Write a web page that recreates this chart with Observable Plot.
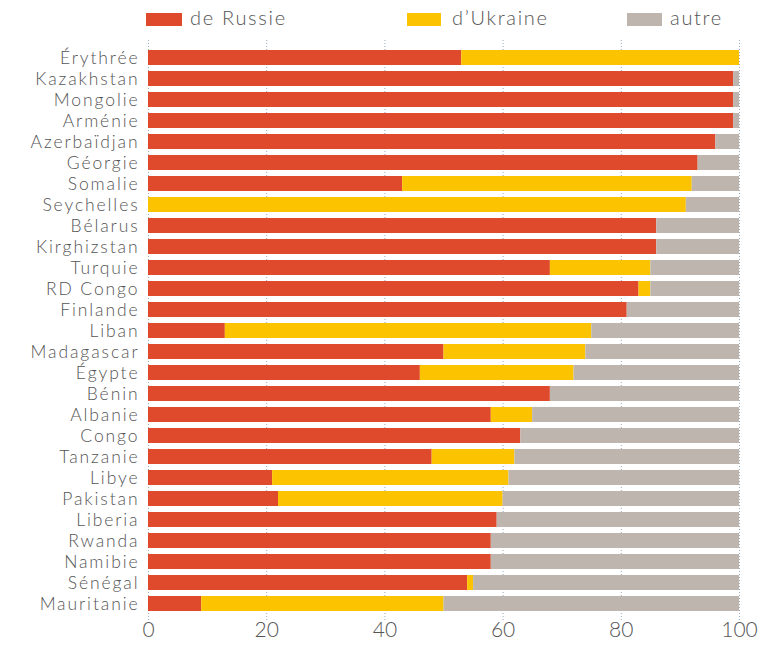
<!DOCTYPE html>
<html>
<head>
<meta charset="utf-8">
<script src="https://cdn.jsdelivr.net/npm/d3@7"></script>
<script src="https://cdn.jsdelivr.net/npm/@observablehq/plot@0.6"></script>
<style>
  html, body { margin: 0; padding: 0; background: #fff; }
  body { width: 771px; height: 645px; overflow: hidden; font-family: Lato, "Open Sans", sans-serif; font-weight: 300; color: #555; }
  #legend { position: relative; height: 34px; width: 771px; }
  .sw { position: absolute; top: 13px; height: 13px; }
  .lt { position: absolute; top: 5px; font-size: 20px; line-height: 24px; letter-spacing: 1.7px; }
  #chart svg text { font-family: Lato, "Open Sans", sans-serif; font-weight: 300; }
  #chart svg g[aria-label="y-axis tick label"] text { letter-spacing: 1.9px; }
</style>
</head>
<body>
<div id="legend"></div>
<div id="chart"></div>
<script>
const countries = ["Érythrée","Kazakhstan","Mongolie","Arménie","Azerbaïdjan","Géorgie","Somalie","Seychelles","Bélarus","Kirghizstan","Turquie","RD Congo","Finlande","Liban","Madagascar","Égypte","Bénin","Albanie","Congo","Tanzanie","Libye","Pakistan","Liberia","Rwanda","Namibie","Sénégal","Mauritanie"];
const russia  = [53,99,99,99,96,93,43,0,86,86,68,83,81,13,50,46,68,58,63,48,21,22,59,58,58,54,9];
const ukraine = [47,0,0,0,0,0,49,91,0,0,17,2,0,62,24,26,0,7,0,14,40,38,0,0,0,1,41];
const other   = [0,1,1,1,4,7,8,9,14,14,15,15,19,25,26,28,32,35,37,38,39,40,41,42,42,45,50];
const sources = ["de Russie","d’Ukraine","autre"];
const colors  = ["#e04a2c","#fcc400","#beb6ae"];
const xTicks  = [0,20,40,60,80,100];

const rows = [];
countries.forEach((c, i) => {
  rows.push({country: c, source: sources[0], value: russia[i]});
  rows.push({country: c, source: sources[1], value: ukraine[i]});
  rows.push({country: c, source: sources[2], value: other[i]});
});

// legend
const legend = document.getElementById("legend");
const legendPos = [[146, 36, 190], [407, 34, 452], [627, 35, 670]];
sources.forEach((s, i) => {
  const sw = document.createElement("div");
  sw.className = "sw";
  sw.style.left = legendPos[i][0] + "px";
  sw.style.width = legendPos[i][1] + "px";
  sw.style.background = colors[i];
  legend.appendChild(sw);
  const t = document.createElement("div");
  t.className = "lt";
  t.style.left = legendPos[i][2] + "px";
  t.textContent = s;
  legend.appendChild(t);
});

const chart = Plot.plot({
  width: 771,
  height: 611,
  marginLeft: 148,
  marginRight: 32,
  marginTop: 6,
  marginBottom: 25,
  style: {background: "#fff", color: "#555", fontFamily: "Lato, 'Open Sans', sans-serif"},
  x: {domain: [0, 100], ticks: xTicks},
  y: {domain: countries, padding: 0.3},
  color: {domain: sources, range: colors},
  marks: [
    Plot.gridX(xTicks, {stroke: "#8fa3b5", strokeOpacity: 0.9, strokeDasharray: "1,2"}),
    Plot.barX(rows, {y: "country", x: "value", fill: "source", order: sources}),
    Plot.axisX({ticks: xTicks, tickSize: 0, tickPadding: 2, fontSize: 21, fill: "#555", label: null}),
    Plot.axisY({tickSize: 0, tickPadding: 9, fontSize: 17.5, fill: "#555", label: null})
  ]
});
document.getElementById("chart").appendChild(chart);
</script>
</body>
</html>
